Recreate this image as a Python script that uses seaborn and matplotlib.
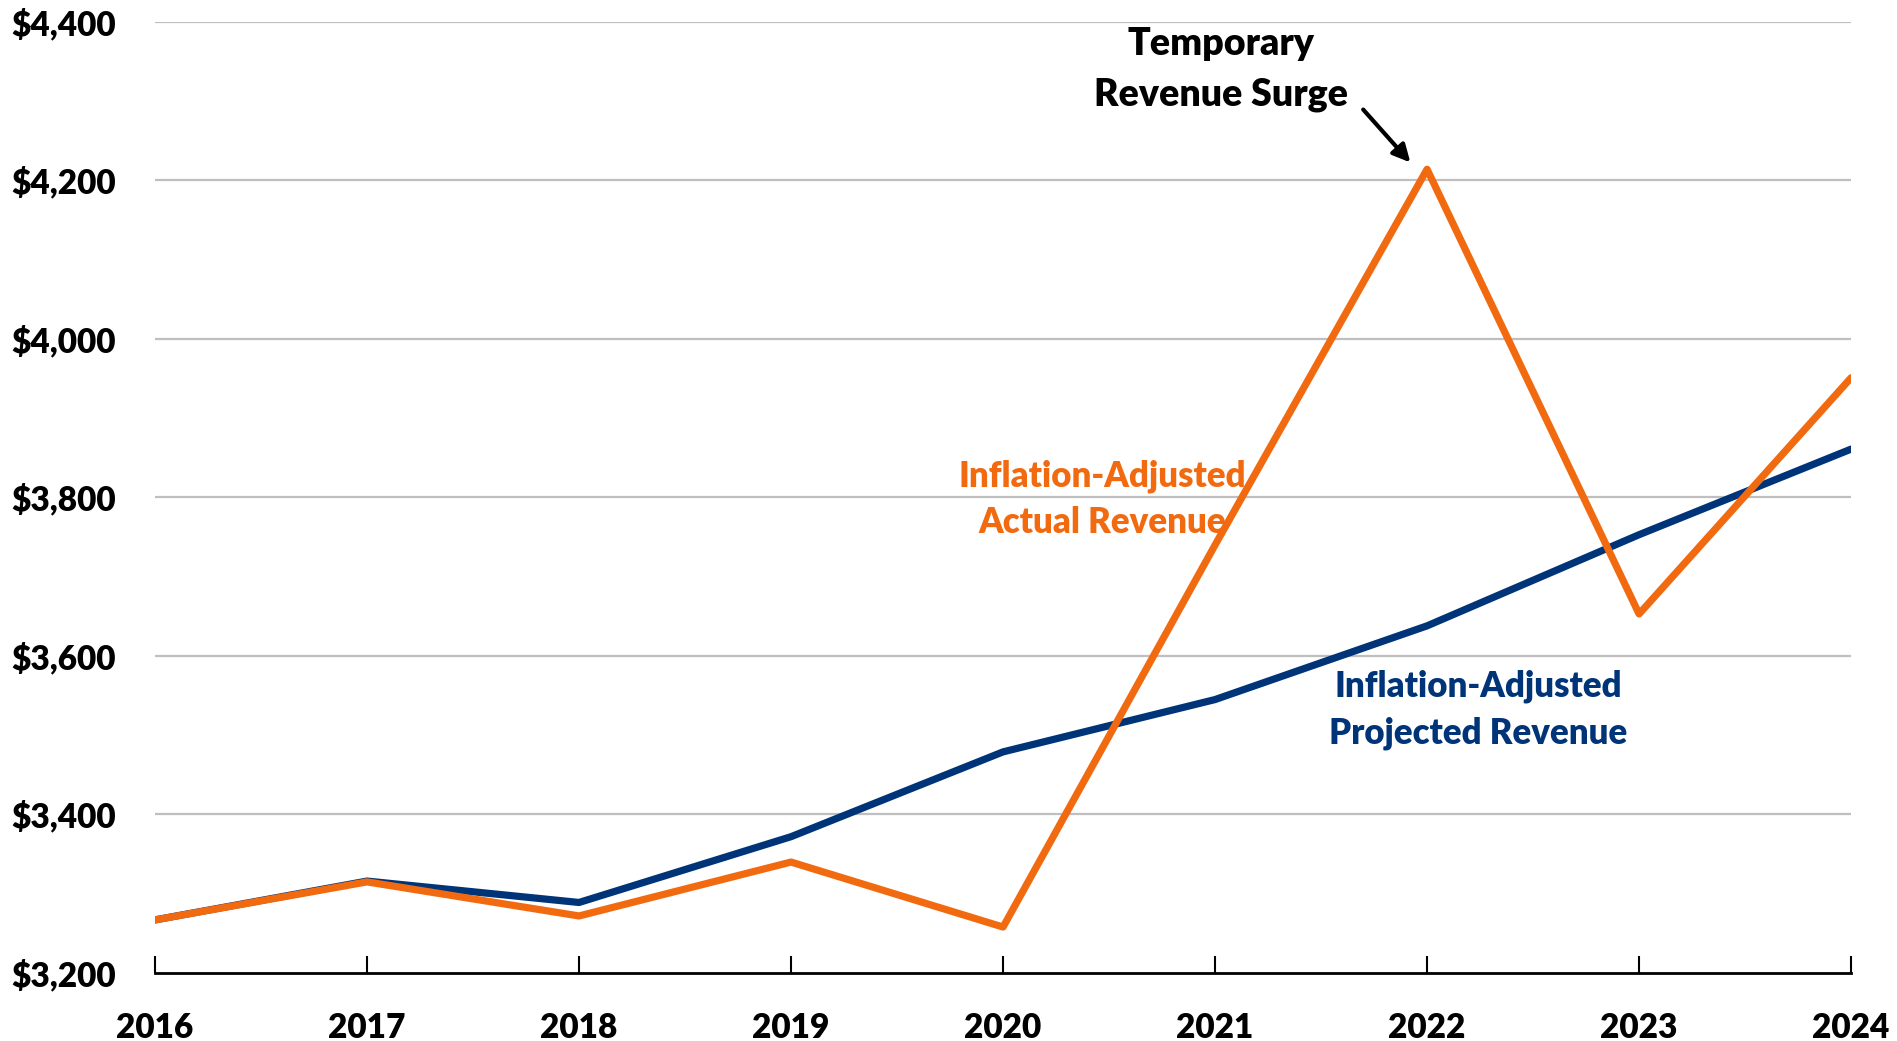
import pandas as pd
import matplotlib
matplotlib.use("Agg")
import matplotlib.pyplot as plt
import seaborn as sns

# values
years = [2016, 2017, 2018, 2019, 2020, 2021, 2022, 2023, 2024]
actual_revenue = [3267, 3315, 3272, 3340, 3258, 3740, 4214, 3653, 3951]
projected_revenue = [3267, 3316, 3289, 3372, 3479, 3545, 3638, 3753, 3861]
y_ticks = [3200, 3400, 3600, 3800, 4000, 4200, 4400]

ORANGE = "#F26A10"
NAVY = "#003478"

df = pd.DataFrame({
    "year": years * 2,
    "revenue": actual_revenue + projected_revenue,
    "series": ["actual"] * len(years) + ["projected"] * len(years),
})

sns.set_theme(style="white")
plt.rcParams["font.family"] = ["Lato", "DejaVu Sans"]
plt.rcParams["font.weight"] = "heavy"

fig, ax = plt.subplots(figsize=(18.97, 10.41), dpi=100)
fig.subplots_adjust(left=0.0817, right=0.9758, top=0.979, bottom=0.0653)

for y in y_ticks[1:]:
    ax.axhline(y, color="#BFBFBF", lw=1.6, zorder=0)

sns.lineplot(data=df, x="year", y="revenue", hue="series", hue_order=["projected", "actual"],
             palette={"actual": ORANGE, "projected": NAVY}, lw=5.2, legend=False, ax=ax)

ax.set_xlim(2016, 2024)
ax.set_ylim(3200, 4400)
ax.set_xticks(years)
ax.set_xticklabels([str(y) for y in years])
ax.set_yticks(y_ticks)
ax.set_yticklabels([f"${v:,}" for v in y_ticks])
ax.set_xlabel("")
ax.set_ylabel("")

for side in ["top", "right", "left"]:
    ax.spines[side].set_visible(False)
ax.spines["bottom"].set_color("black")
ax.spines["bottom"].set_linewidth(2)

ax.tick_params(axis="x", direction="in", length=12, width=1.5, color="black",
               labelsize=24, pad=28, bottom=True)
ax.tick_params(axis="y", length=0, labelsize=24, pad=28)
for lab in ax.get_xticklabels() + ax.get_yticklabels():
    lab.set_fontweight("heavy")
    lab.set_color("black")

ax.text(2021.03, 4340, "Temporary\nRevenue Surge", ha="center", va="center",
        fontsize=27, fontweight="heavy", color="black", linespacing=1.6)
ax.annotate("", xy=(2021.93, 4220), xytext=(2021.69, 4292),
            arrowprops=dict(arrowstyle="-|>", color="black", lw=3, mutation_scale=26))

ax.text(2020.47, 3798, "Inflation-Adjusted\nActual Revenue", ha="center", va="center",
        fontsize=25, fontweight="heavy", color=ORANGE, linespacing=1.5)
ax.text(2022.24, 3532, "Inflation-Adjusted\nProjected Revenue", ha="center", va="center",
        fontsize=25, fontweight="heavy", color=NAVY, linespacing=1.5)

plt.savefig("out.png", dpi=100)
